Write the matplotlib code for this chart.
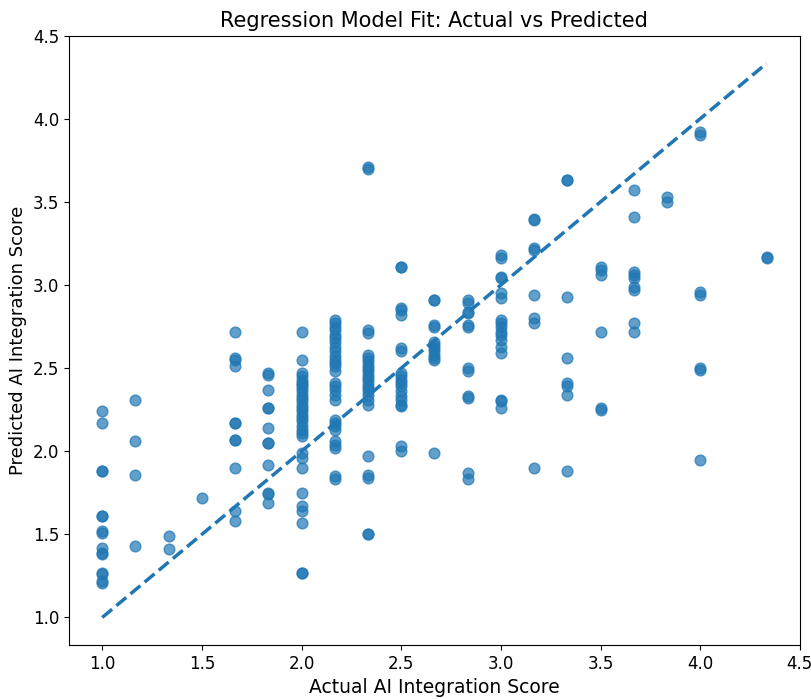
import numpy as np
import matplotlib
matplotlib.use("Agg")
import matplotlib.pyplot as plt

# predicted scores, grouped by actual score column
actual_levels = [1.0, 7/6, 4/3, 1.5, 5/3, 11/6, 2.0, 13/6, 7/3, 2.5,
                 8/3, 17/6, 3.0, 19/6, 10/3, 3.5, 11/3, 23/6, 4.0, 13/3]

pred_by_level = [
    [2.24, 2.17, 1.88, 1.88, 1.61, 1.61, 1.52, 1.51, 1.42, 1.39, 1.38, 1.27, 1.26, 1.22, 1.21],
    [2.31, 2.06, 1.86, 1.43],
    [1.49, 1.41],
    [1.72],
    [2.72, 2.56, 2.55, 2.51, 2.17, 2.17, 2.07, 2.07, 1.90, 1.64, 1.58],
    [2.47, 2.46, 2.37, 2.26, 2.26, 2.14, 2.05, 2.05, 1.92, 1.75, 1.74, 1.69],
    [2.72, 2.55, 2.47, 2.45, 2.43, 2.41, 2.40, 2.38, 2.36, 2.34, 2.32, 2.30, 2.28, 2.26,
     2.24, 2.22, 2.20, 2.18, 2.15, 2.13, 2.11, 2.09, 1.99, 1.96, 1.90, 1.75, 1.67, 1.64,
     1.57, 1.27, 1.27],
    [2.79, 2.77, 2.75, 2.73, 2.70, 2.68, 2.66, 2.63, 2.60, 2.57, 2.55, 2.53, 2.51, 2.48,
     2.41, 2.39, 2.37, 2.34, 2.31, 2.19, 2.17, 2.15, 2.13, 2.06, 2.04, 2.02, 1.85, 1.83],
    [3.71, 3.70, 2.73, 2.71, 2.58, 2.56, 2.54, 2.52, 2.50, 2.48, 2.46, 2.44, 2.42, 2.40,
     2.38, 2.36, 2.34, 2.31, 2.28, 1.97, 1.86, 1.84, 1.50, 1.50],
    [3.11, 3.11, 2.86, 2.85, 2.82, 2.62, 2.60, 2.47, 2.45, 2.43, 2.41, 2.39, 2.36, 2.33,
     2.31, 2.28, 2.27, 2.03, 2.00],
    [2.91, 2.91, 2.76, 2.75, 2.66, 2.64, 2.62, 2.60, 2.58, 2.56, 2.55, 1.99],
    [2.91, 2.89, 2.84, 2.83, 2.76, 2.75, 2.50, 2.48, 2.33, 2.32, 1.87, 1.83],
    [3.18, 3.16, 3.05, 3.04, 2.95, 2.92, 2.79, 2.77, 2.75, 2.72, 2.70, 2.67, 2.63, 2.59,
     2.31, 2.30, 2.26],
    [3.40, 3.39, 3.22, 3.21, 2.94, 2.80, 2.77, 1.90],
    [3.63, 3.63, 2.93, 2.56, 2.41, 2.39, 2.34, 1.88],
    [3.11, 3.09, 3.06, 2.72, 2.26, 2.25],
    [3.57, 3.41, 3.08, 3.06, 3.04, 2.99, 2.97, 2.77, 2.72],
    [3.53, 3.50],
    [3.92, 3.90, 2.96, 2.94, 2.50, 2.49, 1.95],
    [3.17, 3.16],
]

y_actual = np.concatenate([[a] * len(p) for a, p in zip(actual_levels, pred_by_level)])
y_pred = np.concatenate(pred_by_level)

fig = plt.figure(figsize=(8.12, 6.99), dpi=100)
ax = fig.add_axes([0.085, 0.077, 0.9, 0.872])

ax.scatter(y_actual, y_pred, alpha=0.7, s=60)
lo, hi = y_actual.min(), y_actual.max()
ax.plot([lo, hi], [lo, hi], "--", lw=2.5)

ax.set_xlabel("Actual AI Integration Score", fontsize=13.5)
ax.set_ylabel("Predicted AI Integration Score", fontsize=13)
ax.set_title("Regression Model Fit: Actual vs Predicted", fontsize=15)
ax.tick_params(labelsize=12)

fig.savefig("out.png", dpi=100)
